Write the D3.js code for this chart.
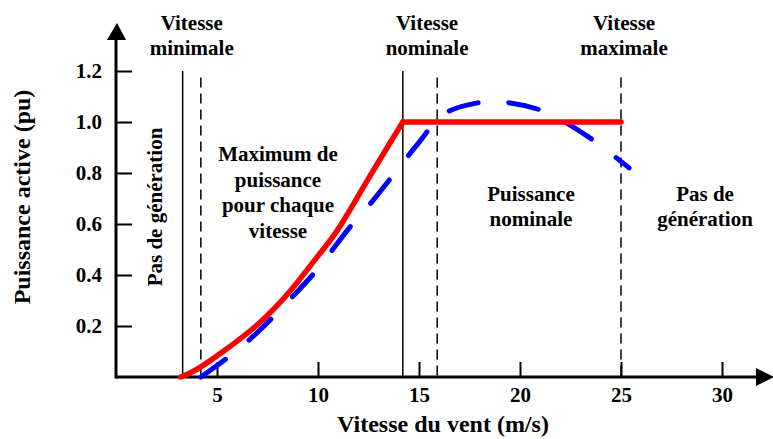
<!DOCTYPE html>
<html lang="fr">
<head>
<meta charset="UTF-8">
<title>Puissance active en fonction de la vitesse du vent</title>
<script src="https://d3js.org/d3.v7.min.js"></script>
<style>
  body { margin: 0; background: #fff; }
  svg text { font-family: "Liberation Serif", "Times New Roman", serif; font-weight: bold; fill: #000; }
</style>
</head>
<body>
<div id="chart"></div>
<script>
// tick values
const xTicks = [5, 10, 15, 20, 25, 30];
const yTicks = [0.2, 0.4, 0.6, 0.8, 1.0, 1.2];

// red curve: ideal power (rise then nominal plateau)
const redRiseSpeed = [3.2, 4, 5.3, 7, 8.6, 10, 11, 12.4, 14.2];
const redRisePower = [0, 0.03, 0.1, 0.205, 0.335, 0.475, 0.58, 0.765, 1.0];
const redFlatSpeed = [14.2, 25];
const redFlatPower = [1.0, 1.0];

// blue dashed curve: max power per speed
const blueSpeed = [4.2, 5.6, 7, 8.8, 10, 11.5, 12.7, 13.8, 15, 16.2, 17.9, 19.2, 20.9, 22, 23.6, 25.4];
const bluePower = [0, 0.08, 0.175, 0.32, 0.425, 0.58, 0.69, 0.80, 0.92, 1.03, 1.075, 1.078, 1.05, 1.01, 0.93, 0.82];

// vertical reference speeds
const solidSpeeds = [3.3, 14.2];
const dashedSpeeds = [4.2, 15.9, 25];

const W = 773, H = 439;
const svg = d3.select('#chart').append('svg')
    .attr('width', W).attr('height', H);

const x = d3.scaleLinear().domain([0, 30]).range([116, 722]);
const y = d3.scaleLinear().domain([0, 1.2]).range([377, 71]);

// x axis
const xAxis = svg.append('g')
    .attr('transform', `translate(0,${y(0)})`)
    .call(d3.axisBottom(x).tickValues(xTicks).tickSize(-15).tickSizeOuter(0).tickPadding(10).tickFormat(d3.format('d')));
xAxis.select('.domain').remove();
xAxis.selectAll('.tick line').attr('stroke', '#000').attr('stroke-width', 2);
xAxis.selectAll('.tick text').style('font-size', '21px').attr('font-family', null).attr('font-size', null);

// y axis
const yAxis = svg.append('g')
    .attr('transform', `translate(${x(0)},0)`)
    .call(d3.axisLeft(y).tickValues(yTicks).tickSize(-16).tickSizeOuter(0).tickPadding(14).tickFormat(d3.format('.1f')));
yAxis.select('.domain').remove();
yAxis.selectAll('.tick line').attr('stroke', '#000').attr('stroke-width', 2);
yAxis.selectAll('.tick text').style('font-size', '21px').attr('font-family', null).attr('font-size', null);

// axis lines with arrow heads
svg.append('line').attr('x1', x(0)).attr('x2', 760).attr('y1', y(0)).attr('y2', y(0))
    .attr('stroke', '#000').attr('stroke-width', 3);
svg.append('path').attr('d', `M756,${y(0) - 9}L774,${y(0)}L756,${y(0) + 9}Z`).attr('fill', '#000');
svg.append('line').attr('x1', x(0)).attr('x2', x(0)).attr('y1', y(0) + 1.5).attr('y2', 36)
    .attr('stroke', '#000').attr('stroke-width', 3);
svg.append('path').attr('d', `M${x(0) - 9},40L${x(0) + 1},23L${x(0) + 10},40Z`).attr('fill', '#000');

// vertical reference lines
svg.selectAll('.vsolid').data(solidSpeeds).enter().append('line')
    .attr('x1', d => x(d)).attr('x2', d => x(d))
    .attr('y1', y(1.2)).attr('y2', y(0))
    .attr('stroke', '#000').attr('stroke-width', 1.5);
svg.selectAll('.vdash').data(dashedSpeeds).enter().append('line')
    .attr('x1', d => x(d)).attr('x2', d => x(d))
    .attr('y1', y(1.175)).attr('y2', y(0))
    .attr('stroke', '#000').attr('stroke-width', 1.5)
    .attr('stroke-dasharray', '10,6');

const line = d3.line().x(d => x(d[0])).y(d => y(d[1]));

// blue dashed curve
svg.append('path')
    .datum(d3.zip(blueSpeed, bluePower))
    .attr('d', line.curve(d3.curveCatmullRom.alpha(0.5)))
    .attr('fill', 'none').attr('stroke', '#0000ff').attr('stroke-width', 5)
    .attr('stroke-linecap', 'round').attr('stroke-dasharray', '30,31');

// red curve
svg.append('path')
    .datum(d3.zip(redRiseSpeed, redRisePower))
    .attr('d', line.curve(d3.curveNatural))
    .attr('fill', 'none').attr('stroke', '#ff0000').attr('stroke-width', 5.5)
    .attr('stroke-linecap', 'round');
svg.append('path')
    .datum(d3.zip(redFlatSpeed, redFlatPower))
    .attr('d', line.curve(d3.curveLinear))
    .attr('fill', 'none').attr('stroke', '#ff0000').attr('stroke-width', 5.5)
    .attr('stroke-linecap', 'round');

// annotations
function block(lines, cx, y0, step) {
    const t = svg.append('text').attr('text-anchor', 'middle').style('font-size', '21px');
    lines.forEach((s, i) => t.append('tspan').attr('x', cx).attr('y', y0 + i * step).text(s));
}
block(['Vitesse', 'minimale'], x(3.75), 30, 25);
block(['Vitesse', 'nominale'], x(15.4), 30, 25);
block(['Vitesse', 'maximale'], x(25.15), 30, 25);
block(['Maximum de', 'puissance', 'pour chaque', 'vitesse'], 278, 161, 25.6);
block(['Puissance', 'nominale'], 531, 201, 25);
block(['Pas de', 'génération'], 705, 201, 25);

svg.append('text')
    .attr('transform', 'translate(162,207) rotate(-90)')
    .attr('text-anchor', 'middle').style('font-size', '21px')
    .text('Pas de génération');

// axis titles
svg.append('text')
    .attr('transform', 'translate(30,197) rotate(-90)')
    .attr('text-anchor', 'middle').style('font-size', '24px')
    .text('Puissance active (pu)');
svg.append('text')
    .attr('x', 443).attr('y', 432)
    .attr('text-anchor', 'middle').style('font-size', '24px')
    .text('Vitesse du vent (m/s)');
</script>
</body>
</html>
